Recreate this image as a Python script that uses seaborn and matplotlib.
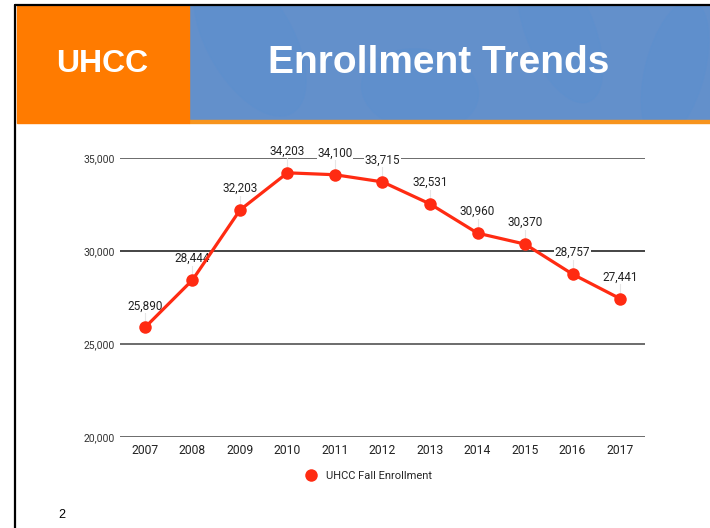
import numpy as np
import pandas as pd
import matplotlib
matplotlib.use("Agg")
import matplotlib.pyplot as plt
from matplotlib.patches import Rectangle, Ellipse
from matplotlib.lines import Line2D
import seaborn as sns

# datos de la matrícula (fall enrollment)
years = [2007, 2008, 2009, 2010, 2011, 2012, 2013, 2014, 2015, 2016, 2017]
enrollment = [25890, 28444, 32203, 34203, 34100, 33715, 32531, 30960, 30370, 28757, 27441]
y_ticks = [20000, 25000, 30000, 35000]
series_name = "UHCC Fall Enrollment"

RED = "#ff2b12"
W, H = 710, 528

sns.set_theme(style="white")
plt.rcParams["font.family"] = ["Roboto", "DejaVu Sans"]

df = pd.DataFrame({"year": years, "enrollment": enrollment})

fig = plt.figure(figsize=(W / 100, H / 100), dpi=100)


def px(x0, y0, w, h):
    """rectángulo en pixeles (origen arriba-izquierda) -> coords de figura"""
    return (x0 / W, 1 - (y0 + h) / H), w / W, h / H


# ---------------- cabecera de la diapositiva ----------------
(x, y), w, h = px(189, 6, 521, 114)
header = Rectangle((x, y), w, h, transform=fig.transFigure, color="#6390cb", zorder=0)
fig.patches.append(header)
# manchas suaves del patrón de fondo
for cx, cy, ew, eh, ang in [(250, 40, 90, 160, 20), (420, 90, 120, 80, -30),
                            (560, 30, 70, 150, 15), (675, 70, 60, 140, -10)]:
    blob = Ellipse((cx / W, 1 - cy / H), ew / W, eh / H, angle=ang,
                   transform=fig.transFigure, color="#5a8fd0", alpha=0.35, zorder=0.5)
    blob.set_clip_path(header)
    fig.patches.append(blob)
(x, y), w, h = px(189, 120, 521, 3)
fig.patches.append(Rectangle((x, y), w, h, transform=fig.transFigure,
                             color="#f7941d", zorder=1))
(x, y), w, h = px(17, 6, 172, 117)
fig.patches.append(Rectangle((x, y), w, h, transform=fig.transFigure,
                             color="#ff7b00", zorder=1))
# bordes negros
fig.lines.append(Line2D([15 / W, 15 / W], [0, 1 - 5 / H], transform=fig.transFigure,
                        color="black", lw=1.6, zorder=2))
fig.lines.append(Line2D([15 / W, 1], [1 - 5 / H, 1 - 5 / H], transform=fig.transFigure,
                        color="black", lw=1.6, zorder=2))

fig.text(102 / W, 1 - 64 / H, "UHCC", color="white", fontsize=23, fontweight="bold",
         family="Liberation Sans", ha="center", va="center")
fig.text(439 / W, 1 - 63 / H, "Enrollment Trends", color="white", fontsize=28,
         fontweight="bold", family="Liberation Sans", ha="center", va="center")
fig.text(62 / W, 1 - 515 / H, "2", color="black", fontsize=9,
         family="Liberation Sans", ha="center", va="center")

# ---------------- gráfico ----------------
(x, y), w, h = px(120, 158, 525, 279)
ax = fig.add_axes([x, y, w, h])
ax.patch.set_alpha(0)

sns.lineplot(data=df, x="year", y="enrollment", ax=ax, color=RED, lw=2.3,
             marker="o", markersize=9, markeredgewidth=0, zorder=5, clip_on=False)

ax.set_ylim(y_ticks[0], y_ticks[-1])
ax.set_xlim(years[0] - 0.526, years[-1] + 0.526)
ax.set_yticks(y_ticks)
ax.set_yticklabels([f"{v:,}" for v in y_ticks], fontsize=7.5, color="#333333")
ax.set_xticks(years)
ax.set_xticklabels([str(v) for v in years], fontsize=8.7, color="#222222")
ax.tick_params(axis="y", pad=4, length=0)
ax.tick_params(axis="x", pad=5, length=0)
ax.set_xlabel("")
ax.set_ylabel("")
for s in ax.spines.values():
    s.set_visible(False)
for v in y_ticks:
    ax.axhline(v, color="#444444" if v != 30000 else "#111111", lw=1.1, zorder=1)

# etiquetas de valor con su pequeño tallo gris
off = 1150
ax.vlines(years, [v + 250 for v in enrollment], [v + off - 300 for v in enrollment],
          color="#e6e6e6", lw=0.8, zorder=2)
for xv, yv in zip(years, enrollment):
    ax.text(xv, yv + off, f"{yv:,}", ha="center", va="center", fontsize=8.5,
            color="#222222", zorder=3,
            bbox=dict(facecolor="white", edgecolor="none", pad=0.3))

handle = Line2D([], [], color=RED, marker="o", linestyle="none", markersize=9,
                markeredgewidth=0)
ax.legend([handle], [series_name], loc="center", frameon=False, fontsize=8,
          bbox_to_anchor=((366 - 120) / 525, -(476 - 437) / 279),
          handletextpad=0.4)

fig.savefig("out.png", dpi=100)
